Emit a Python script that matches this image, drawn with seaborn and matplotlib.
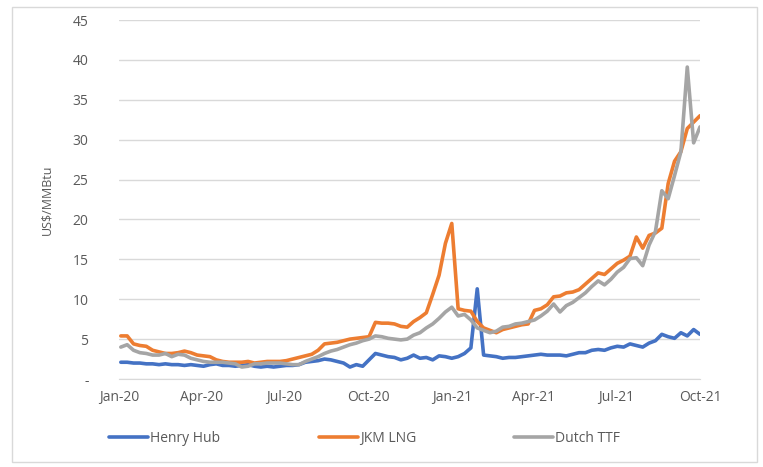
import pandas as pd
import numpy as np
import matplotlib
matplotlib.use('Agg')
import matplotlib.pyplot as plt
import matplotlib.dates as mdates
from matplotlib.patches import Rectangle
import seaborn as sns

# Weekly prices (US$/MMBtu), first week of Jan-20 to end of Sep-21
week_start = '2020-01-03'
n_weeks = 92

henry_hub = [2.1, 2.1, 2.0, 2.0, 1.9, 1.9, 1.8, 1.9, 1.8, 1.8,
             1.7, 1.8, 1.7, 1.6, 1.8, 1.9, 1.7, 1.7, 1.6, 1.7,
             1.8, 1.6, 1.5, 1.6, 1.5, 1.6, 1.7, 1.7, 1.8, 2.1,
             2.2, 2.3, 2.5, 2.4, 2.2, 2.0, 1.5, 1.8, 1.6, 2.4,
             3.2, 3.0, 2.8, 2.7, 2.4, 2.6, 3.0, 2.6, 2.7, 2.4,
             2.9, 2.8, 2.6, 2.8, 3.2, 3.9, 11.3, 3.0, 2.9, 2.8,
             2.6, 2.7, 2.7, 2.8, 2.9, 3.0, 3.1, 3.0, 3.0, 3.0,
             2.9, 3.1, 3.3, 3.3, 3.6, 3.7, 3.6, 3.9, 4.1, 4.0,
             4.4, 4.2, 4.0, 4.5, 4.8, 5.6, 5.3, 5.1, 5.8, 5.4,
             6.2, 5.6]

jkm_lng = [5.4, 5.4, 4.4, 4.2, 4.1, 3.6, 3.4, 3.2, 3.2, 3.3,
           3.5, 3.3, 3.0, 2.9, 2.8, 2.4, 2.2, 2.1, 2.1, 2.1,
           2.2, 2.0, 2.1, 2.2, 2.2, 2.2, 2.3, 2.5, 2.7, 2.9,
           3.1, 3.6, 4.4, 4.5, 4.6, 4.8, 5.0, 5.1, 5.2, 5.3,
           7.1, 7.0, 7.0, 6.9, 6.6, 6.5, 7.2, 7.7, 8.3, 10.6,
           13.0, 17.0, 19.5, 8.8, 8.6, 8.5, 7.2, 6.4, 6.1, 5.8,
           6.2, 6.4, 6.6, 6.8, 6.9, 8.6, 8.8, 9.3, 10.3, 10.4,
           10.8, 10.9, 11.2, 11.9, 12.6, 13.3, 13.1, 13.8, 14.5, 14.9,
           15.4, 17.8, 16.4, 18.0, 18.3, 18.9, 24.5, 27.3, 28.5, 31.4,
           32.2, 33.0]

dutch_ttf = [4.0, 4.3, 3.6, 3.3, 3.2, 3.0, 3.0, 3.2, 2.8, 3.1,
             3.0, 2.6, 2.4, 2.2, 2.1, 2.1, 2.1, 2.0, 1.9, 1.5,
             1.6, 1.9, 1.9, 2.0, 2.0, 2.0, 1.9, 1.8, 1.8, 2.2,
             2.5, 2.8, 3.2, 3.5, 3.7, 4.0, 4.3, 4.5, 4.8, 5.0,
             5.4, 5.3, 5.1, 5.0, 4.9, 5.0, 5.5, 5.8, 6.4, 6.9,
             7.6, 8.4, 9.0, 7.9, 8.1, 7.4, 6.4, 6.1, 5.8, 6.0,
             6.5, 6.6, 6.9, 7.0, 7.2, 7.4, 7.9, 8.5, 9.4, 8.4,
             9.2, 9.6, 10.2, 10.8, 11.6, 12.3, 11.8, 12.5, 13.4, 14.0,
             15.1, 15.2, 14.2, 16.8, 18.5, 23.6, 22.6, 25.5, 28.5, 39.1,
             29.6, 31.6]

series_names = ['Henry Hub', 'JKM LNG', 'Dutch TTF']
series_colors = ['#4472C4', '#ED7D31', '#A5A5A5']
y_ticks = [0, 5, 10, 15, 20, 25, 30, 35, 40, 45]
y_tick_labels = ['-', '5', '10', '15', '20', '25', '30', '35', '40', '45']

dates = pd.date_range(week_start, periods=n_weeks, freq='7D')
df = pd.DataFrame({'Date': dates, 'Henry Hub': henry_hub,
                   'JKM LNG': jkm_lng, 'Dutch TTF': dutch_ttf})
long_df = df.melt(id_vars='Date', var_name='Series', value_name='Price')

sns.set_style('white')
plt.rcParams['font.family'] = ['Open Sans', 'DejaVu Sans']

fig = plt.figure(figsize=(7.63, 4.67), dpi=100)
ax = fig.add_axes([119/763, 1 - 379/467, (700 - 119)/763, (379 - 20)/467])

sns.lineplot(data=long_df, x='Date', y='Price', hue='Series',
             hue_order=series_names, palette=series_colors,
             linewidth=2.6, ax=ax, legend=False)

ax.set_xlim(pd.Timestamp('2020-01-01'), pd.Timestamp('2021-10-01'))
ax.set_ylim(0, 45)
ax.set_yticks(y_ticks)
ax.set_yticklabels(y_tick_labels)
ax.yaxis.grid(True, color='#d9d9d9', linewidth=1)
ax.set_axisbelow(True)

quarters = pd.date_range('2020-01-01', '2021-10-01', freq='QS')
ax.set_xticks(quarters)
ax.xaxis.set_major_formatter(mdates.DateFormatter('%b-%y'))
minor = [pd.Timestamp('2020-01-01') + pd.Timedelta(days=49 * i) for i in range(14)]
ax.set_xticks(minor, minor=True)
ax.tick_params(axis='x', which='major', length=0, pad=8, labelsize=10, colors='#595959')
ax.tick_params(axis='x', which='minor', length=5, color='#d9d9d9', width=1)
ax.tick_params(axis='y', length=0, pad=22, labelsize=10, colors='#595959')

for side in ['top', 'right', 'left']:
    ax.spines[side].set_visible(False)
ax.spines['bottom'].set_color('#d9d9d9')
ax.set_xlabel('')
ax.set_ylabel('US$/MMBtu', fontsize=9, color='#595959', labelpad=14)

handles = [plt.Line2D([], [], color=c, linewidth=2.6) for c in series_colors]
fig.legend(handles, series_names, loc='center', bbox_to_anchor=(0.478, 0.062),
           ncol=3, frameon=False, fontsize=10, handlelength=2.8,
           handletextpad=0.15, columnspacing=7.1, labelcolor='#595959')

fig.patches.append(Rectangle((12/763, 1 - 462/467), (757 - 12)/763, (462 - 7)/467,
                             transform=fig.transFigure, fill=False,
                             edgecolor='#d9d9d9', linewidth=1))

plt.savefig('out.png', dpi=100)
